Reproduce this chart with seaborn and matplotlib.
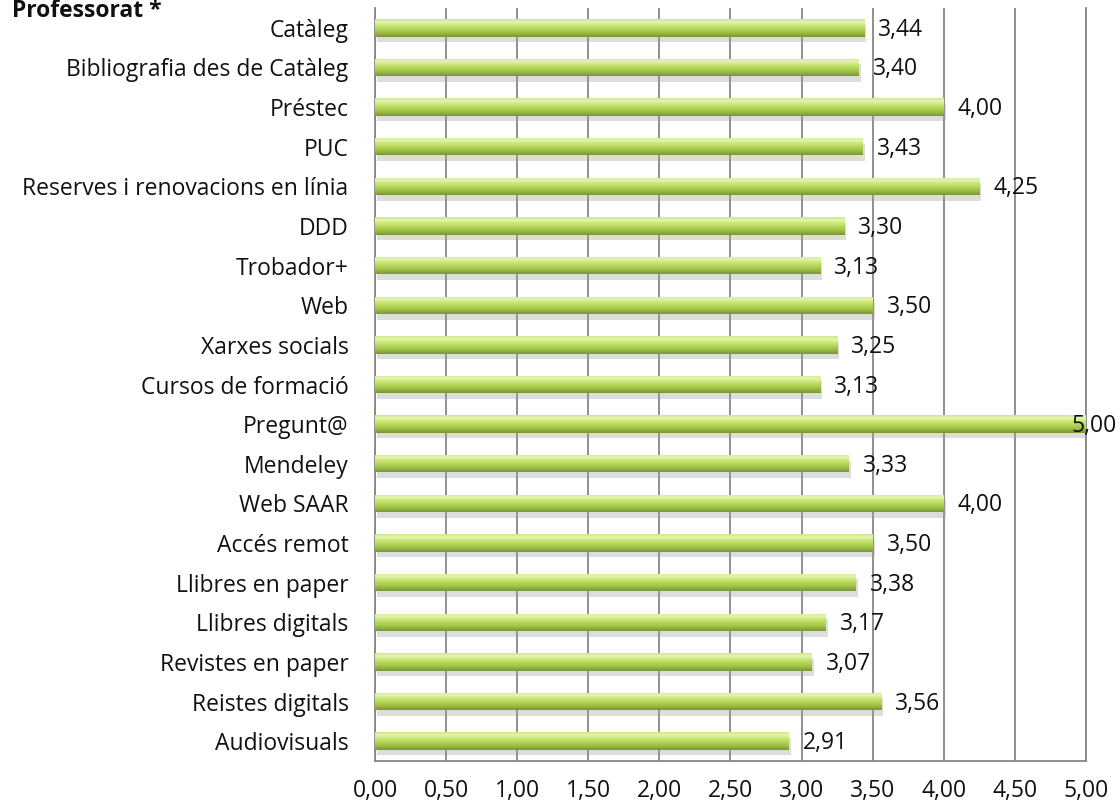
import numpy as np
import pandas as pd
import matplotlib
matplotlib.use("Agg")
import matplotlib.pyplot as plt
import matplotlib.patheffects as pe
from matplotlib.colors import LinearSegmentedColormap
import seaborn as sns

categories = ["Catàleg", "Bibliografia des de Catàleg", "Préstec", "PUC",
              "Reserves i renovacions en línia", "DDD", "Trobador+", "Web",
              "Xarxes socials", "Cursos de formació", "Pregunt@", "Mendeley",
              "Web SAAR", "Accés remot", "Llibres en paper", "Llibres digitals",
              "Revistes en paper", "Reistes digitals", "Audiovisuals"]
values = [3.44, 3.40, 4.00, 3.43, 4.25, 3.30, 3.13, 3.50, 3.25, 3.13,
          5.00, 3.33, 4.00, 3.50, 3.38, 3.17, 3.07, 3.56, 2.91]
xticks = [0.0, 0.5, 1.0, 1.5, 2.0, 2.5, 3.0, 3.5, 4.0, 4.5, 5.0]
title = "Professorat *"

sns.set_theme(style="white")
plt.rcParams['font.family'] = ['Open Sans', 'DejaVu Sans']
FS = 16.5
TXT = "#111111"

df = pd.DataFrame({"cat": categories, "val": values})

fig = plt.figure(figsize=(11.2, 8.07), dpi=100)
ax = fig.add_axes([375/1120, 1 - 761/807, (1086-375)/1120, (761-8)/807])

sns.barplot(data=df, y="cat", x="val", orient="h", ax=ax, color="#aed150",
            width=0.44, saturation=1, zorder=3)

cmap = LinearSegmentedColormap.from_list(
    "bar", ["#cfe88a", "#e4f5ae", "#cde87e", "#b8da5e", "#a8cb4c", "#94b342", "#7a9436"])
grad = np.linspace(0, 1, 64).reshape(-1, 1)

for p in ax.patches:
    x0, y0 = p.get_x(), p.get_y()
    w, h = p.get_width(), p.get_height()
    p.set_path_effects([pe.SimplePatchShadow(offset=(1.5, -4), shadow_rgbFace="#a0a0a0", alpha=0.35), pe.Normal()])
    p.set_edgecolor("none")
    im = ax.imshow(grad, cmap=cmap, extent=[x0, x0 + w, y0 + h, y0],
                   aspect="auto", zorder=4, interpolation="bilinear")
    im.set_clip_path(p)

ax.set_xlim(0, 5)
ax.set_ylim(len(categories) - 0.5, -0.5)
ax.set_xticks(xticks)
ax.set_xticklabels([f"{t:.2f}".replace(".", ",") for t in xticks], fontsize=FS, color=TXT)
ax.set_yticks(range(len(categories)))
ax.set_yticklabels(categories, fontsize=FS, color=TXT)
ax.tick_params(axis="y", length=0, pad=19)
ax.tick_params(axis="x", length=0, pad=13)
ax.set_xlabel("")
ax.set_ylabel("")

ax.grid(axis="x", color="#878787", linewidth=1.3, zorder=0)
ax.grid(axis="y", visible=False)
ax.set_axisbelow(True)
for s in ["left", "bottom", "right"]:
    ax.spines[s].set_color("#878787")
    ax.spines[s].set_linewidth(1.3)
ax.spines["top"].set_visible(False)

for i, v in enumerate(values):
    lbl = f"{v:.2f}".replace(".", ",")
    off = -14 if v >= 5.0 else 14
    ax.annotate(lbl, (v, i), xytext=(off, -8), textcoords="offset pixels",
                va="baseline", ha="left", fontsize=FS, color=TXT, zorder=6)

fig.text(12/1120, 1 - 17/807, title, fontsize=FS, fontweight="bold",
         ha="left", va="baseline", color=TXT)

fig.savefig("out.png", dpi=100)
